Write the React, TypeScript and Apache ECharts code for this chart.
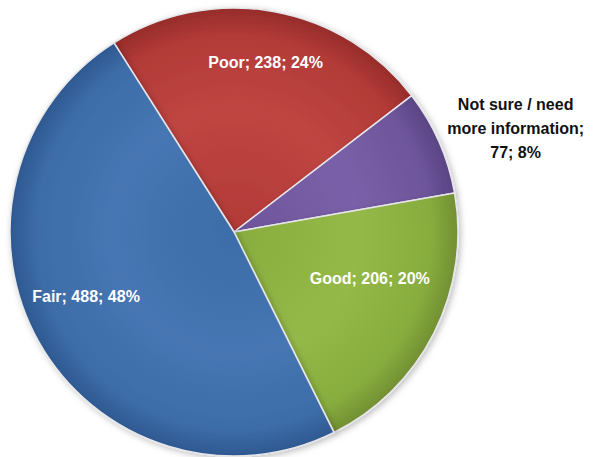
import React, { useEffect, useRef } from "react";
import * as echarts from "echarts";

const categories = ["Poor", "Not sure / need\nmore information", "Good", "Fair"];
const values = [238, 77, 206, 488];
const percents = [24, 8, 20, 48];

const baseColors = ["#B23A37", "#6E559B", "#88AD3E", "#3D6DA8"];
const lightColors = ["#BF4542", "#7A60A8", "#94B948", "#4676B3"];
const darkColors = ["#962C2A", "#5A4483", "#728F33", "#2E5890"];
const labelColors = ["#ffffff", "#111111", "#ffffff", "#ffffff"];
// label placement: radial fraction of radius, angle shift (deg)
const labelRadial = [0.77, 1.34, 0.64, 0.72];
const labelShift = [0.5, 3.5, -8, 6];

const CX = 234;
const CY = 232;
const R = 224;
const START_FROM_TOP = -32.4; // degrees clockwise from 12 o'clock

export default function App() {
  const ref = useRef<HTMLDivElement>(null);
  useEffect(() => {
    if (!ref.current) return;
    const chart = echarts.init(ref.current, null, { renderer: "svg" });
    const total = values.reduce((a, b) => a + b, 0);
    const mids: number[] = [];
    let cum = 0;
    values.forEach((v) => {
      mids.push(START_FROM_TOP + ((cum + v / 2) / total) * 360);
      cum += v;
    });
    const data = categories.map((name, i) => ({
      name,
      value: values[i],
      itemStyle: {
        color: new echarts.graphic.RadialGradient(
          CX,
          CY,
          R,
          [
            { offset: 0, color: baseColors[i] },
            { offset: 0.55, color: lightColors[i] },
            { offset: 0.88, color: baseColors[i] },
            { offset: 1, color: darkColors[i] },
          ],
          true
        ),
      },
      label: {
        color: labelColors[i],
      },
    }));
    chart.setOption({
      animation: false,
      backgroundColor: "#ffffff",
      series: [
        {
          type: "pie",
          center: [CX, CY],
          radius: [0, R],
          startAngle: 90 - START_FROM_TOP,
          clockwise: true,
          data,
          itemStyle: {
            borderColor: "#e6e6ea",
            borderWidth: 1.5,
            shadowColor: "rgba(0,0,0,0.25)",
            shadowBlur: 6,
            shadowOffsetX: 2,
            shadowOffsetY: 2,
          },
          label: {
            show: true,
            position: "inside",
            fontFamily: "'Liberation Sans', Arial, sans-serif",
            fontWeight: "bold",
            fontSize: 16,
            lineHeight: 24,
            align: "center",
            formatter: (p: any) =>
              p.name.startsWith("Not sure")
                ? `Not sure / need\nmore information;\n${p.value}; ${percents[p.dataIndex]}%`
                : `${p.name}; ${p.value}; ${percents[p.dataIndex]}%`,
          },
          labelLine: { show: false },
          labelLayout: (params: any) => {
            const i = params.dataIndex;
            const a = ((mids[i] + labelShift[i]) * Math.PI) / 180;
            const k = labelRadial[i];
            return {
              x: CX + k * R * Math.sin(a),
              y: CY - k * R * Math.cos(a),
              align: "center",
              verticalAlign: "middle",
            };
          },
          emphasis: { disabled: true },
        },
      ],
    });
    return () => chart.dispose();
  }, []);
  return (
    <div
      ref={ref}
      style={{ position: "fixed", left: 0, top: 0, width: 595, height: 457 }}
    />
  );
}
